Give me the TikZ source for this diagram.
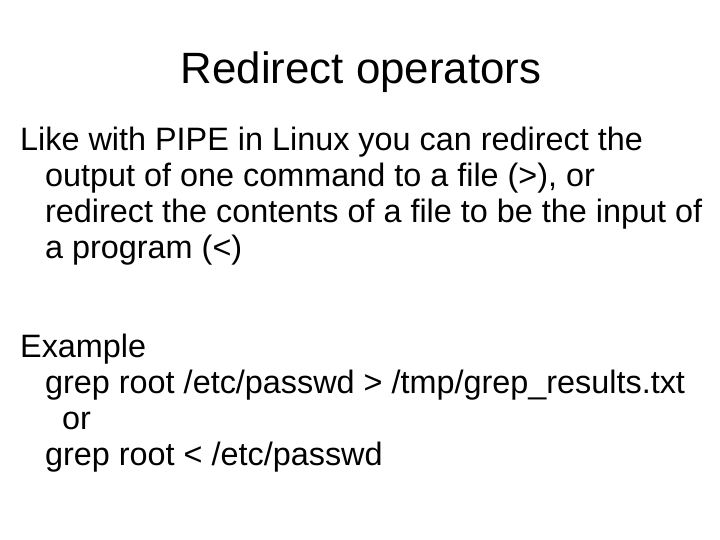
\documentclass[tikz,border=0pt]{standalone}
\usepackage{fontspec}
\setmainfont{Liberation Sans}
\tikzset{line/.style={anchor=base west, inner sep=0pt, font=\fontsize{32.5}{38}\selectfont}}
\begin{document}
\begin{tikzpicture}[x=1bp,y=1bp]
\useasboundingbox (0,0) rectangle (720,540);

% Title
\node (title) [anchor=base, inner sep=0pt, font=\fontsize{44}{50}\selectfont] at (361,456) {Redirect operators};

% Body text
\node (l1) [line] at (20,389) {Like with PIPE in Linux you can redirect the};
\node (l2) [line] at (45,353) {output of one command to a file (>), or};
\node (l3) [line] at (45,317) {redirect the contents of a file to be the input of};
\node (l4) [line] at (45,281) {a program (<)};

\node (ex) [line] at (20,182) {Example};
\node (cmd1) [line] at (45,146) {grep root /etc/passwd > /tmp/grep\_results.txt};
\node (or) [line] at (62,110) {or};
\node (cmd2) [line] at (45,74) {grep root < /etc/passwd};

\end{tikzpicture}
\end{document}
